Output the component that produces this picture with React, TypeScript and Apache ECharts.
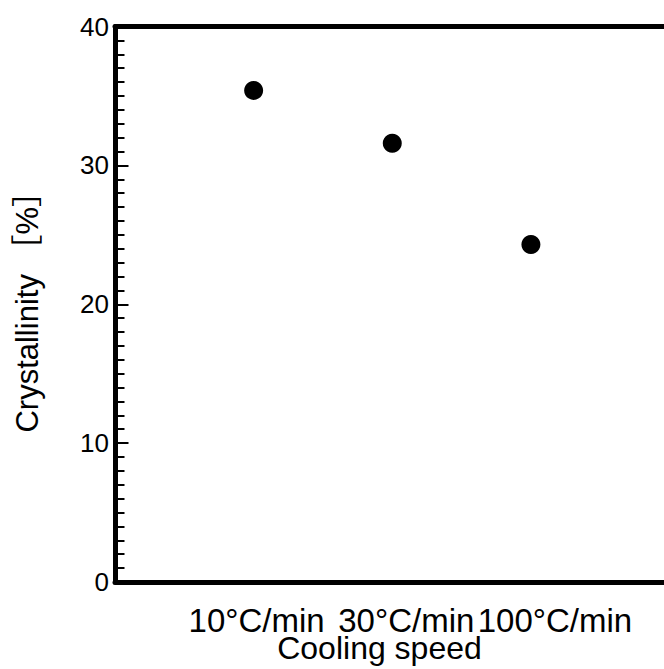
import React, { useEffect, useRef } from "react";
import * as echarts from "echarts";

const categories = ["10°C/min", "30°C/min", "100°C/min"];
const crystallinity = [35.4, 31.6, 24.3];
const yTicks = [0, 10, 20, 30, 40];
const xName = "Cooling speed";
const yName = "Crystallinity ［%］";

const FONT = "'Liberation Sans', Arial, 'Noto Sans CJK JP', sans-serif";

export default function App() {
  const ref = useRef<HTMLDivElement>(null);
  useEffect(() => {
    if (!ref.current) return;
    const chart = echarts.init(ref.current, undefined, { renderer: "svg", width: 664, height: 669 });
    const points = crystallinity.map((v, i) => [i + 1, v]);
    const labelStyles = ["a", "b", "c"];
    chart.setOption({
      animation: false,
      backgroundColor: "#ffffff",
      grid: {
        left: 115,
        right: 0,
        top: 26.5,
        bottom: 87,
        containLabel: false,
        outerBoundsMode: "none",
      },
      xAxis: [
        {
          type: "value",
          position: "bottom",
          min: 0,
          max: 3.96,
          interval: 1,
          splitLine: { show: false },
          axisTick: { show: false },
          axisLine: { show: true, lineStyle: { color: "#000", width: 5 } },
          axisLabel: {
            show: true,
            margin: 25.5,
            showMinLabel: false,
            showMaxLabel: false,
            fontFamily: FONT,
            fontSize: 32,
            lineHeight: 26,
            color: "#000",
            formatter: (v: number) => {
              const i = Math.round(v) - 1;
              if (i < 0 || i >= categories.length || Math.abs(v - Math.round(v)) > 1e-6) return "";
              return "{" + labelStyles[i] + "|" + categories[i] + "}";
            },
            rich: {
              a: { fontFamily: FONT, fontSize: 33, lineHeight: 26, color: "#000", padding: [0, 0, 0, 6] },
              b: { fontFamily: FONT, fontSize: 33, lineHeight: 26, color: "#000", padding: [0, 0, 0, 28] },
              c: { fontFamily: FONT, fontSize: 33, lineHeight: 26, color: "#000", padding: [0, 0, 0, 48] },
            },
          },
          name: xName,
          nameLocation: "middle",
          nameGap: 53,
          nameMoveOverlap: false,
          nameTextStyle: {
            fontFamily: FONT,
            fontSize: 32,
            lineHeight: 26,
            color: "#000",
            padding: [0, 20, 0, 0],
          },
        },
        {
          type: "value",
          position: "top",
          min: 0,
          max: 3.96,
          splitLine: { show: false },
          axisTick: { show: false },
          axisLabel: { show: false },
          axisLine: { show: true, lineStyle: { color: "#000", width: 5 } },
        },
      ],
      yAxis: {
        type: "value",
        min: yTicks[0],
        max: yTicks[yTicks.length - 1],
        interval: 10,
        splitLine: { show: false },
        axisLine: { show: true, lineStyle: { color: "#000", width: 5 } },
        axisTick: { show: true, inside: true, length: 13.5, lineStyle: { color: "#000", width: 2 } },
        minorTick: { show: true, splitNumber: 10, length: 9.5, lineStyle: { color: "#000", width: 2 } },
        minorSplitLine: { show: false },
        axisLabel: { margin: 6, fontFamily: FONT, fontSize: 26, color: "#000" },
        name: yName,
        nameLocation: "middle",
        nameGap: 72,
        nameRotate: 90,
        nameMoveOverlap: false,
        nameTextStyle: { fontFamily: FONT, fontSize: 31, color: "#000" },
      },
      series: [
        {
          type: "scatter",
          data: points,
          symbol: "circle",
          symbolSize: 19,
          itemStyle: { color: "#000", opacity: 1 },
        },
      ],
    });
    return () => chart.dispose();
  }, []);
  return (
    <div
      ref={ref}
      style={{ position: "absolute", left: 0, top: 0, width: 664, height: 669, background: "#fff" }}
    />
  );
}
